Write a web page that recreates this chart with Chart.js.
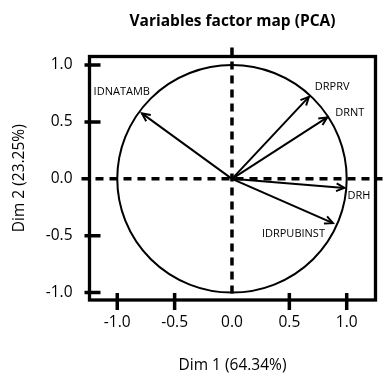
<!DOCTYPE html>
<html>
<head>
<meta charset="utf-8">
<script src="https://cdn.jsdelivr.net/npm/chart.js@4/dist/chart.umd.min.js"></script>
<style>
  body { margin: 0; background: #fff; }
  #wrap { width: 390px; height: 380px; }
</style>
</head>
<body>
<div id="wrap"><canvas id="pca-chart" width="390" height="380"></canvas></div>
<script>
// variables and their coordinates on the first two dimensions
const varNames = ['DRPRV', 'DRNT', 'DRH', 'IDRPUBINST', 'IDNATAMB'];
const dim1 = [0.67, 0.83, 0.98, 0.88, -0.785];
const dim2 = [0.72, 0.54, -0.08, -0.39, 0.575];

const xTicks = [-1.0, -0.5, 0.0, 0.5, 1.0];
const yTicks = [-1.0, -0.5, 0.0, 0.5, 1.0];

const chartTitle = 'Variables factor map (PCA)';
const xTitle = 'Dim 1 (64.34%)';
const yTitle = 'Dim 2 (23.25%)';

// where each label sits relative to its arrow tip (pixels)
const labelPlace = {
    DRPRV:      { align: 'left',  dx: 6,  dy: -10 },
    DRNT:       { align: 'left',  dx: 8,  dy: -5 },
    DRH:        { align: 'left',  dx: 3,  dy: 8 },
    IDRPUBINST: { align: 'right', dx: -8, dy: 11 },
    IDNATAMB:   { align: 'right', dx: 8,  dy: -22 }
};

const FONT = '"Open Sans", "DejaVu Sans", sans-serif';

const pcaDecor = {
    id: 'pcaDecor',
    beforeDatasetsDraw(chart) {
        const { ctx, chartArea: a, scales: { x, y } } = chart;
        const cx = x.getPixelForValue(0), cy = y.getPixelForValue(0);
        // unit circle
        ctx.save();
        ctx.strokeStyle = '#000';
        ctx.lineWidth = 2;
        ctx.beginPath();
        ctx.ellipse(cx, cy, x.getPixelForValue(1) - cx, cy - y.getPixelForValue(1), 0, 0, Math.PI * 2);
        ctx.stroke();
        // dashed axes through the origin
        ctx.lineWidth = 3.5;
        ctx.setLineDash([8, 6]);
        ctx.beginPath();
        ctx.moveTo(cx, a.top - 9);
        ctx.lineTo(cx, a.bottom);
        ctx.moveTo(a.left - 8, cy);
        ctx.lineTo(a.right + 7, cy);
        ctx.stroke();
        ctx.restore();
    },
    afterDatasetsDraw(chart) {
        const { ctx } = chart;
        ctx.save();
        ctx.strokeStyle = '#000';
        ctx.fillStyle = '#000';
        ctx.lineWidth = 2;
        chart.data.datasets.forEach((ds, i) => {
            const pts = chart.getDatasetMeta(i).data;
            const p0 = pts[0], p1 = pts[1];
            const ang = Math.atan2(p1.y - p0.y, p1.x - p0.x);
            const len = 9, spread = 0.45;
            ctx.beginPath();
            ctx.moveTo(p1.x - len * Math.cos(ang - spread), p1.y - len * Math.sin(ang - spread));
            ctx.lineTo(p1.x, p1.y);
            ctx.lineTo(p1.x - len * Math.cos(ang + spread), p1.y - len * Math.sin(ang + spread));
            ctx.stroke();

            const lp = labelPlace[ds.label];
            ctx.font = '11px ' + FONT;
            ctx.textAlign = lp.align;
            ctx.textBaseline = 'middle';
            ctx.fillText(ds.label, p1.x + lp.dx, p1.y + lp.dy);
        });
        ctx.restore();
    },
    afterDraw(chart) {
        const { ctx, chartArea: a, scales: { x, y } } = chart;
        ctx.save();
        ctx.strokeStyle = '#000';
        ctx.lineWidth = 3.3;
        ctx.strokeRect(a.left, a.top, a.right - a.left, a.bottom - a.top);
        ctx.lineWidth = 3.5;
        ctx.beginPath();
        xTicks.filter(v => v !== 0).forEach(v => {
            const px = x.getPixelForValue(v);
            ctx.moveTo(px, a.bottom - 7);
            ctx.lineTo(px, a.bottom + 10);
        });
        yTicks.filter(v => v !== 0).forEach(v => {
            const py = y.getPixelForValue(v);
            ctx.moveTo(a.left - 5, py);
            ctx.lineTo(a.left + 11, py);
        });
        ctx.stroke();
        // title
        ctx.fillStyle = '#000';
        ctx.font = 'bold 15.5px ' + FONT;
        ctx.textAlign = 'center';
        ctx.textBaseline = 'middle';
        ctx.fillText(chartTitle, (a.left + a.right) / 2, 22);
        ctx.restore();
    }
};

const datasets = varNames.map((name, i) => ({
    label: name,
    data: [{ x: 0, y: 0 }, { x: dim1[i], y: dim2[i] }],
    borderColor: '#000',
    borderWidth: 2,
    pointRadius: 0,
    showLine: true,
    fill: false
}));

new Chart(document.getElementById('pca-chart').getContext('2d'), {
    type: 'scatter',
    data: { datasets: datasets },
    options: {
        responsive: false,
        animation: false,
        layout: { padding: { top: 56.5, right: 14.5, bottom: 0, left: 0 } },
        plugins: {
            legend: { display: false },
            tooltip: { enabled: false },
            title: { display: false }
        },
        scales: {
            x: {
                type: 'linear',
                min: -1.242,
                max: 1.251,
                grid: { display: false, drawTicks: false },
                border: { display: false },
                afterBuildTicks: s => { s.ticks = xTicks.map(v => ({ value: v })); },
                afterFit: s => { s.height = 80; },
                ticks: {
                    padding: 13,
                    color: '#000',
                    font: { family: FONT, size: 15.5 },
                    callback: v => v.toFixed(1)
                },
                title: {
                    display: true,
                    text: xTitle,
                    color: '#000',
                    font: { family: FONT, size: 15.5 },
                    padding: { top: 0, bottom: 5 }
                }
            },
            y: {
                type: 'linear',
                min: -1.065,
                max: 1.075,
                grid: { display: false, drawTicks: false },
                border: { display: false },
                afterBuildTicks: s => { s.ticks = yTicks.map(v => ({ value: v })); },
                afterFit: s => { s.width = 89.5; },
                ticks: {
                    padding: 17,
                    color: '#000',
                    font: { family: FONT, size: 15.5 },
                    callback: v => v.toFixed(1)
                },
                title: {
                    display: true,
                    text: yTitle,
                    color: '#000',
                    font: { family: FONT, size: 15.5 },
                    padding: { top: 10, bottom: 0 }
                }
            }
        }
    },
    plugins: [pcaDecor]
});
</script>
</body>
</html>
